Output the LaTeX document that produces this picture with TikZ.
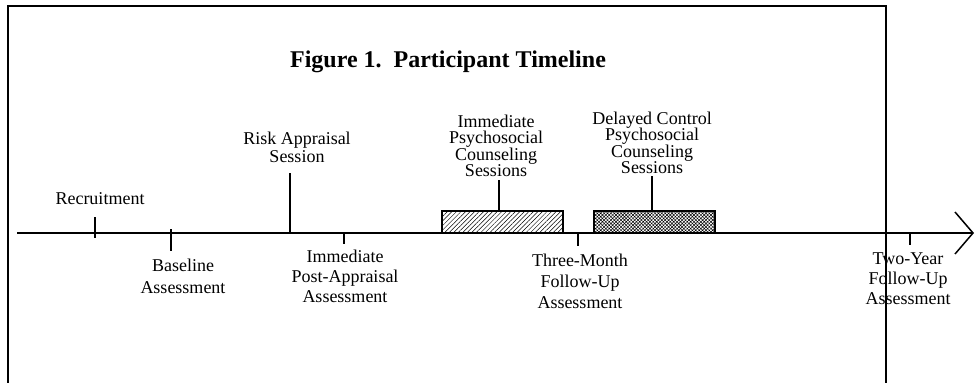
\documentclass[tikz,border=0pt]{standalone}
\usepackage{fontspec}
\setmainfont{Liberation Serif}
\usetikzlibrary{arrows.meta, calc, patterns.meta}

\begin{document}
\begin{tikzpicture}[x=1pt, y=-1pt, line cap=butt, line join=miter,
	lbl/.style={align=center, inner sep=0pt, font=\fontsize{18}{20}\selectfont},
	tightlbl/.style={align=center, inner sep=0pt, font=\fontsize{18}{16.5}\selectfont},
	tick/.style={line width=1.3pt},
	stage/.style={draw, line width=1.3pt, minimum width=121pt, minimum height=22pt, inner sep=0pt}]
	
	\useasboundingbox (0,0) rectangle (975,383);
	
	% ===== frame (open at the bottom) =====
	\draw[line width=1.3pt] (8,383) -- (8,6) -- (886,6) -- (886,383);
	
	% ===== title =====
	\node[font=\fontsize{24}{28}\selectfont\bfseries] (title) at (448,62)
	{Figure 1.\ \ Participant Timeline};
	
	% ===== time axis =====
	\coordinate (start) at (17,233);
	\coordinate (stop) at (974,233);
	\draw[line width=1.8pt, -{Straight Barb[length=18pt, width=42pt, line width=1.5pt]}] (start) -- (stop);
	
	% ===== tick marks on the axis =====
	\coordinate (trec) at (95,233);
	\coordinate (tbase) at (171,233);
	\coordinate (trisk) at (290,233);
	\coordinate (tpost) at (344,233);
	\coordinate (tthree) at (578,233);
	\coordinate (ttwo) at (910,233);
	\draw[tick] ($(trec)+(0,-16)$) -- ($(trec)+(0,5)$);
	\draw[tick] ($(tbase)+(0,-4)$) -- ($(tbase)+(0,18)$);
	\draw[tick] ($(trisk)+(0,-60)$) -- (trisk);
	\draw[tick] (tpost) -- ($(tpost)+(0,11)$);
	\draw[tick] (tthree) -- ($(tthree)+(0,13)$);
	\draw[tick] (ttwo) -- ($(ttwo)+(0,12)$);
	
	% ===== labels of the single events =====
	\node[lbl] (recruit) at (100,199) {Recruitment};
	\node[lbl, font=\fontsize{18}{22}\selectfont] (baseline) at (183,276) {Baseline\\Assessment};
	\node[lbl, font=\fontsize{18}{18}\selectfont] (riskappr) at (297,147) {Risk Appraisal\\Session};
	\node[lbl] (postappr) at (345,276) {Immediate\\Post-Appraisal\\Assessment};
	\node[lbl, font=\fontsize{18}{21}\selectfont] (threemonth) at (580,281) {Three-Month\\Follow-Up\\Assessment};
	\node[lbl] (twoyear) at (908,279) {Two-Year\\Follow-Up\\Assessment};
	
	% ===== counseling blocks =====
	\node[stage, pattern={Lines[angle=45, distance=3.2pt, line width=0.5pt]}] (imbox) at (502.5,222) {};
	\node[stage, pattern={Hatch[angle=45, distance=2.4pt, line width=0.5pt]}] (delbox) at (654.5,222) {};
	
	\node[tightlbl] (imcouns) at (496,146) {Immediate\\Psychosocial\\Counseling\\Sessions};
	\node[tightlbl] (delcouns) at (652,143) {Delayed Control\\Psychosocial\\Counseling\\Sessions};
	
	\coordinate (imtop) at (499,180);
	\coordinate (deltop) at (652,176);
	\draw[tick] (imtop) -- (imtop |- imbox.north);
	\draw[tick] (deltop) -- (deltop |- delbox.north);
	
\end{tikzpicture}
\end{document}
